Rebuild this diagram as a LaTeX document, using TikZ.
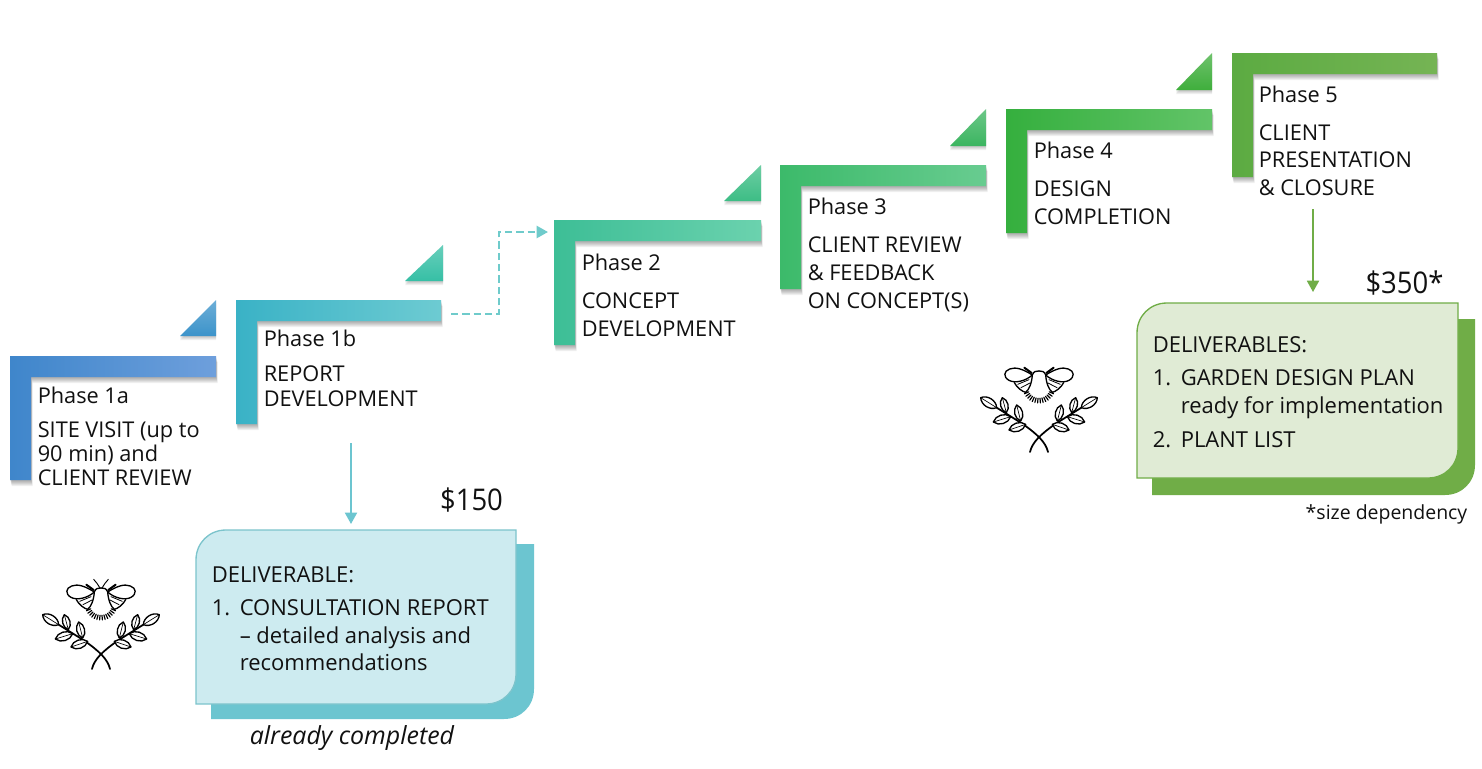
\documentclass[tikz,border=0pt]{standalone}
\usepackage{fontspec}
\setmainfont{Open Sans}
\newfontfamily\txtfont{Open Sans}
\newfontfamily\pricefont[FakeStretch=0.92]{Open Sans}
\usetikzlibrary{arrows.meta}
\definecolor{ink}{HTML}{111111}
\definecolor{tealline}{HTML}{6CC5D0}
\definecolor{tealedge}{HTML}{7CC4CC}
\definecolor{dashteal}{HTML}{6FCBCB}
\definecolor{greenline}{HTML}{70AD47}
\definecolor{tealfill}{HTML}{CDEBF0}
\definecolor{greenfill}{HTML}{E0EBD5}
\newcommand\chevron[6]{%
  \definecolor{cha}{HTML}{#5}\definecolor{chb}{HTML}{#6}%
  \foreach \s in {1,2,3,4,5,6}{\fill[black,opacity=.06,shift={(\s/4,\s)}] (#1,#2) -- (#3,#2) -- (#3,#2+21) -- (#1+21,#2+21) -- (#1+21,#4) -- (#1,#4) -- cycle;}
  \shade[left color=cha,right color=chb] (#1,#2) -- (#3,#2) -- (#3,#2+21) -- (#1+21,#2+21) -- (#1+21,#4) -- (#1,#4) -- cycle;}
\newcommand\tri[5]{%
  \definecolor{cha}{HTML}{#5}%
  \foreach \s in {1,2,3,4}{\fill[black,opacity=.06,shift={(0,\s)}] (#1,#2) -- (#1,#3) -- (#4,#3) -- cycle;}
  \shade[top color=cha!75!white,bottom color=cha] (#1,#2) -- (#1,#3) -- (#4,#3) -- cycle;}
\newcommand\leafshape[2]{%
  \draw[iconline,fill=white] (#1) to[bend left=55] (#2) to[bend left=55] (#1);
  \draw[iconline,line width=.5pt] (#1) -- (#2);}
\newcommand\iconhalf{%
  \draw[iconline] (-20,-186) .. controls (-45,-202) and (-70,-212) .. (-88,-204) .. controls (-106,-198) and (-108,-180) .. (-90,-170) .. controls (-72,-160) and (-40,-168) .. (-20,-186);
  \draw[iconline] (-74,-163) .. controls (-66,-148) and (-50,-136) .. (-40,-134) .. controls (-30,-142) and (-22,-160) .. (-20,-186);
  \draw[iconline,line width=.6pt] (-64,-158) -- (-30,-172) (-54,-148) -- (-27,-162);
  \draw[iconline] (-20,-186) .. controls (-16,-198) and (-8,-198) .. (0,-198);
  \draw[iconline,line width=1.5pt] (-22,-192) -- (-44,-208);
  \foreach \a in {95,105,...,155}{\draw[iconline,line width=.9pt] (0,-150) ++(\a:34) -- ++(\a:14);}
  \draw[iconline,line width=1.3pt] (27,45) .. controls (20,15) and (-5,-8) .. (-50,-40) -- (-127,-88);
  \leafshape{-127,-88}{-175,-118}
  \leafshape{-98,-73}{-110,-118}
  \leafshape{-55,-48}{-67,-96}
  \leafshape{-137,-45}{-85,-61}
  \leafshape{-90,-21}{-40,-38}}
\newcommand\iconat[3]{%
  \begin{scope}[shift={(#1,#2)},x=.25pt,y=-.25pt]
    \iconhalf #3
    \begin{scope}[xscale=-1]\iconhalf #3\end{scope}
  \end{scope}}
\newcommand\feelers{\draw[iconline,line width=.7pt] (-3,-198) -- (-12,-212) -- (-22,-224);}
\newcommand\numitem[2]{\makebox[21pt][l]{#1}#2}
\tikzset{
  x=.75pt,y=-.75pt,
  iconline/.style={draw=black,line width=1pt,line cap=round,line join=round},
  phasetext/.style={anchor=north west,inner sep=0pt,align=left,text=ink,font={\txtfont\fontsize{16.3}{18}\selectfont}},
  boxtext/.style={anchor=north west,inner sep=0pt,align=left,text=ink,font={\txtfont\fontsize{16.5}{20.8}\selectfont}},
  note/.style={anchor=center,inner sep=0pt,text=ink},
  price/.style={note,font={\pricefont\fontsize{22.4}{24}\selectfont}},
  flow/.style={line width=1.4pt,-{Triangle[length=8.5pt,width=9pt]}},
}
\begin{document}
\begin{tikzpicture}
\useasboundingbox (0,0) rectangle (1482,768);
\fill[white] (0,0) rectangle (1482,768);
% chevrons
\chevron{10}{356}{216}{480}{3F86CB}{6E9FDC}
\tri{216}{300}{336}{180}{3C93CA}
\chevron{236}{300}{441}{424}{3AB2C6}{6DCBD2}
\tri{443}{245}{281}{405}{36BFA5}
\chevron{554}{220}{761}{345}{3DBE96}{6BD2AE}
\tri{761}{165}{201}{724}{3DBD85}
\chevron{780}{165}{986}{289}{3CBA6A}{68CC90}
\tri{986}{109}{146}{950}{3BB560}
\chevron{1006}{109}{1212}{233}{35AF3E}{62C468}
\tri{1212}{53}{90}{1176}{3FAE3C}
\chevron{1232}{53}{1437}{177}{5CAB42}{75B454}
% connector anchors
\coordinate (dashStart) at (451,314);
\coordinate (dashBend) at (499,232);
\coordinate (dashEnd) at (548,232);
\coordinate (reportStart) at (351,443);
\coordinate (reportEnd) at (351,524);
\coordinate (closeStart) at (1313,209);
\coordinate (closeEnd) at (1313,292);
\draw[flow,draw=dashteal,line width=1.8pt,dash pattern=on 5.5pt off 3pt] (dashStart) -| (dashBend) -- (dashEnd);
\draw[flow,draw=tealline] (reportStart) -- (reportEnd);
\draw[flow,draw=greenline] (closeStart) -- (closeEnd);
% phase labels
\node[phasetext] (t1a) at (37.5,387) {Phase 1a\\[7.5pt]SITE VISIT (up to\\90 min) and\\CLIENT REVIEW};
\node[phasetext] (t1b) at (263.5,330) {Phase 1b\\[8pt]REPORT\\[.75pt]DEVELOPMENT};
\node[phasetext] (t2) at (581.5,253.5) {Phase 2\\[10.75pt]CONCEPT\\[2.75pt]DEVELOPMENT};
\node[phasetext] (t3) at (807.5,197.5) {Phase 3\\[10.75pt]CLIENT REVIEW\\[2.75pt]\& FEEDBACK\\[3pt]ON CONCEPT(S)};
\node[phasetext] (t4) at (1033.5,141.5) {Phase 4\\[10.75pt]DESIGN\\[2.75pt]COMPLETION};
\node[phasetext] (t5) at (1258.5,86) {Phase 5\\[10pt]CLIENT\\[2.75pt]PRESENTATION\\[3pt]\& CLOSURE};
% deliverable boxes
\fill[tealline] (211,719) -- (211,544) -- (534,544) -- (534,689) .. controls (534,706) and (521,719) .. (504,719) -- cycle;
\draw[draw=tealedge,fill=tealfill,line width=1pt] (196,704) -- (196,560) .. controls (196,543) and (209,530) .. (226,530) -- (516,530) -- (516,674) .. controls (516,691) and (503,704) .. (486,704) -- cycle;
\fill[greenline] (1152,495) -- (1152,319) -- (1475,319) -- (1475,465) .. controls (1475,482) and (1462,495) .. (1445,495) -- cycle;
\draw[draw=greenline,fill=greenfill,line width=1pt] (1137,478) -- (1137,333) .. controls (1137,316) and (1150,303) .. (1167,303) -- (1458,303) -- (1458,448) .. controls (1458,465) and (1445,478) .. (1428,478) -- cycle;
\node[boxtext] (da) at (211.5,566) {DELIVERABLE:\\[4.5pt]\numitem{1.}{CONSULTATION REPORT}\\\numitem{}{– detailed analysis and}\\[-.5pt]\numitem{}{recommendations}};
\node[boxtext] (db) at (1152.5,336) {DELIVERABLES:\\[4.5pt]\numitem{1.}{GARDEN DESIGN PLAN}\\\numitem{}{ready for implementation}\\[4.2pt]\numitem{2.}{PLANT LIST}};
% notes
\node[price] (pa) at (471.5,500) {\$150};
\node[price] (pb) at (1404.5,283) {\$350*};
\node[note,font={\txtfont\itshape\fontsize{18.7}{20}\selectfont}] (na) at (352,738) {already completed};
\node[note,font={\txtfont\fontsize{14.6}{18}\selectfont}] (nb) at (1386.5,514) {*size dependency};
% icons
\iconat{101}{654}{\feelers}
\iconat{1039}{437}{}
\end{tikzpicture}
\end{document}
